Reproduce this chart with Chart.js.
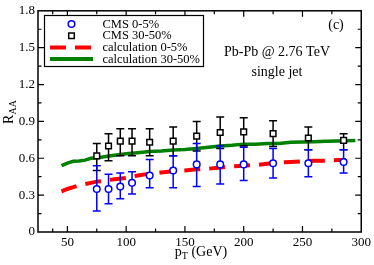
<!DOCTYPE html>
<html><head><meta charset="utf-8">
<script src="https://cdn.jsdelivr.net/npm/chart.js@4.4.1/dist/chart.umd.min.js"></script>
<style>html,body{margin:0;padding:0;background:#fff}</style>
</head><body>
<canvas id="c" width="374" height="265" style="display:block;width:374px;height:265px"></canvas>
<script>
// ---- data ----
const ptCMS = [75, 85, 95, 105, 120, 140, 160, 180, 200, 225, 255, 285];
const cms05 = [0.35, 0.35, 0.37, 0.40, 0.46, 0.50, 0.55, 0.55, 0.55, 0.56, 0.56, 0.57];
const cms05Lo = [0.17, 0.23, 0.27, 0.31, 0.36, 0.36, 0.37, 0.39, 0.42, 0.44, 0.45, 0.48];
const cms05Hi = [0.54, 0.47, 0.48, 0.49, 0.59, 0.62, 0.72, 0.70, 0.69, 0.68, 0.67, 0.67];
const cms3050 = [0.62, 0.70, 0.74, 0.74, 0.73, 0.74, 0.78, 0.81, 0.815, 0.80, 0.765, 0.745];
const cms3050Lo = [0.50, 0.58, 0.62, 0.62, 0.62, 0.62, 0.66, 0.68, 0.70, 0.695, 0.67, 0.67];
const cms3050Hi = [0.72, 0.80, 0.84, 0.84, 0.84, 0.855, 0.90, 0.935, 0.93, 0.905, 0.855, 0.80];

const ptCalc05 = [45, 50, 55, 60, 65, 70, 75, 80, 90, 100, 110, 120, 130, 140, 150, 160, 170, 180, 190, 200, 210, 220, 230, 240, 250, 260, 270, 280, 287];
const calc05 = [0.33, 0.35, 0.365, 0.38, 0.39, 0.40, 0.41, 0.415, 0.43, 0.44, 0.46, 0.475, 0.485, 0.495, 0.50, 0.51, 0.515, 0.525, 0.535, 0.54, 0.545, 0.555, 0.565, 0.57, 0.575, 0.58, 0.58, 0.585, 0.585];
const ptCalc3050 = [45, 50, 55, 60, 65, 70, 75, 80, 90, 100, 110, 120, 130, 140, 150, 160, 170, 180, 190, 200, 210, 220, 230, 240, 250, 260, 270, 280, 295];
const calc3050 = [0.54, 0.56, 0.575, 0.578, 0.585, 0.60, 0.605, 0.61, 0.625, 0.637, 0.645, 0.655, 0.66, 0.668, 0.672, 0.68, 0.69, 0.70, 0.705, 0.715, 0.715, 0.72, 0.72, 0.73, 0.732, 0.735, 0.738, 0.74, 0.745];

const xTicks = [50, 100, 150, 200, 250, 300];
const yTicks = [0, 0.3, 0.6, 0.9, 1.2, 1.5, 1.8];
const labels = ['CMS 0-5%', 'CMS 30-50%', 'calculation 0-5%', 'calculation 30-50%'];
const annotPanel = '(c)';
const annotSystem = 'Pb-Pb @ 2.76 TeV';
const annotObs = 'single jet';

// ---- chart ----
const SERIF = '"Liberation Serif", "DejaVu Serif", serif';
const zip = (xs, ys) => xs.map((x, i) => ({x: x, y: ys[i]}));

const plugin = {
  id: 'decor',
  beforeDatasetDraw(chart, args) {
    const ds = chart.data.datasets[args.index];
    if (!ds.errLo) return;
    const xs = chart.scales.x, ys = chart.scales.y, ctx = chart.ctx;
    ctx.save();
    ctx.strokeStyle = ds.borderColor; ctx.lineWidth = 1.5;
    ds.data.forEach((p, i) => {
      const x = xs.getPixelForValue(p.x);
      const y1 = ys.getPixelForValue(ds.errLo[i]);
      const y2 = ys.getPixelForValue(ds.errHi[i]);
      ctx.beginPath();
      ctx.moveTo(x, y1); ctx.lineTo(x, y2);
      ctx.moveTo(x - 4, y1); ctx.lineTo(x + 4, y1);
      ctx.moveTo(x - 4, y2); ctx.lineTo(x + 4, y2);
      ctx.stroke();
    });
    ctx.restore();
  },
  afterDraw(chart) {
    const ctx = chart.ctx, a = chart.chartArea, xs = chart.scales.x, ys = chart.scales.y;
    ctx.save();
    // frame
    ctx.strokeStyle = '#000'; ctx.lineWidth = 1.5;
    ctx.strokeRect(a.left, a.top, a.right - a.left, a.bottom - a.top);
    // inward ticks (major + minor), mirrored
    ctx.lineWidth = 1.2;
    ctx.beginPath();
    const xMaj = xTicks, xMin = [];
    for (let i = 0; i < xTicks.length; i++) {
      const prev = i === 0 ? xs.min : xTicks[i - 1];
      xMin.push((prev + xTicks[i]) / 2);
    }
    const yMin = [];
    for (let i = 1; i < yTicks.length; i++) yMin.push((yTicks[i - 1] + yTicks[i]) / 2);
    const tx = (v, L) => {
      const x = xs.getPixelForValue(v);
      if (x <= a.left + 1 || x >= a.right - 1) return;
      ctx.moveTo(x, a.bottom); ctx.lineTo(x, a.bottom - L);
      ctx.moveTo(x, a.top); ctx.lineTo(x, a.top + L);
    };
    const ty = (v, L) => {
      const y = ys.getPixelForValue(v);
      if (y <= a.top + 1 || y >= a.bottom - 1) return;
      ctx.moveTo(a.left, y); ctx.lineTo(a.left + L, y);
      ctx.moveTo(a.right, y); ctx.lineTo(a.right - L, y);
    };
    xMaj.forEach(v => tx(v, 6)); xMin.forEach(v => tx(v, 3.5));
    yTicks.forEach(v => ty(v, 6)); yMin.forEach(v => ty(v, 3.5));
    ctx.stroke();

    // legend
    const bx = 44.5, by = 15.5, bw = 159, bh = 51;
    ctx.fillStyle = '#fff'; ctx.fillRect(bx, by, bw, bh);
    ctx.strokeStyle = '#000'; ctx.lineWidth = 1.2; ctx.strokeRect(bx, by, bw, bh);
    ctx.font = '12.5px ' + SERIF; ctx.textBaseline = 'middle'; ctx.textAlign = 'left';
    chart.data.datasets.forEach((ds, i) => {
      const y = 24 + i * 11.7;
      ctx.save();
      if (ds.showLine === false) {
        ctx.strokeStyle = ds.borderColor; ctx.lineWidth = 1.5; ctx.fillStyle = '#fff';
        ctx.beginPath();
        if (ds.pointStyle === 'rect') { ctx.rect(71.5 - 2.8, y - 2.8, 5.6, 5.6); }
        else { ctx.arc(71.5, y, 3.3, 0, Math.PI * 2); }
        ctx.fill(); ctx.stroke();
      } else {
        ctx.strokeStyle = ds.borderColor; ctx.lineWidth = 4;
        ctx.setLineDash(ds.borderDash || []);
        ctx.beginPath(); ctx.moveTo(50, y); ctx.lineTo(93, y); ctx.stroke();
      }
      ctx.restore();
      ctx.fillStyle = '#000';
      ctx.fillText(ds.label, 102.5, y + 0.5);
    });

    // annotations
    ctx.font = '14px ' + SERIF; ctx.textAlign = 'center'; ctx.fillStyle = '#000';
    ctx.fillText(annotPanel, 336, 25.5);
    ctx.fillText(annotSystem, 277, 52);
    ctx.fillText(annotObs, 277, 72);

    // x title: p_T (GeV)
    ctx.textAlign = 'left'; ctx.textBaseline = 'alphabetic';
    const f1 = '14px ' + SERIF, f2 = '10px ' + SERIF;
    ctx.font = f1; const wP = ctx.measureText('p').width, wR = ctx.measureText(' (GeV)').width;
    ctx.font = f2; const wT = ctx.measureText('T').width;
    let x0 = 201 - (wP + wT + wR) / 2, yb = 256;
    ctx.font = f1; ctx.fillText('p', x0, yb);
    ctx.font = f2; ctx.fillText('T', x0 + wP, yb + 3);
    ctx.font = f1; ctx.fillText(' (GeV)', x0 + wP + wT, yb);

    // y title: R_AA
    ctx.translate(13, 112); ctx.rotate(-Math.PI / 2);
    ctx.font = f1; const wRR = ctx.measureText('R').width;
    ctx.font = f2; const wAA = ctx.measureText('AA').width;
    const s0 = -(wRR + wAA) / 2;
    ctx.font = f1; ctx.fillText('R', s0, 0);
    ctx.font = f2; ctx.fillText('AA', s0 + wRR, 3);
    ctx.restore();
  }
};

new Chart(document.getElementById('c'), {
  type: 'scatter',
  data: {
    datasets: [
      {label: labels[0], data: zip(ptCMS, cms05), errLo: cms05Lo, errHi: cms05Hi,
       showLine: false, pointStyle: 'circle', pointRadius: 3.3, pointBorderWidth: 1.5,
       borderColor: '#0000ff', backgroundColor: '#ffffff'},
      {label: labels[1], data: zip(ptCMS, cms3050), errLo: cms3050Lo, errHi: cms3050Hi,
       showLine: false, pointStyle: 'rect', pointRadius: 4, pointBorderWidth: 1.5,
       borderColor: '#000000', backgroundColor: '#ffffff'},
      {label: labels[2], data: zip(ptCalc05, calc05), showLine: true, pointRadius: 0,
       borderColor: '#ff0000', borderWidth: 4, borderDash: [16, 9], tension: 0},
      {label: labels[3], data: zip(ptCalc3050, calc3050), showLine: true, pointRadius: 0,
       borderColor: '#008000', borderWidth: 3.5, tension: 0}
    ]
  },
  options: {
    responsive: false, animation: false, devicePixelRatio: 1,
    layout: {padding: {top: 6, right: 12, left: 0, bottom: 0}},
    plugins: {legend: {display: false}, tooltip: {enabled: false}},
    scales: {
      x: {
        type: 'linear', min: 25, max: 300,
        afterFit: s => { s.height = 33; },
        afterBuildTicks: s => { s.ticks = xTicks.map(v => ({value: v})); },
        grid: {display: false, drawTicks: false},
        border: {display: false},
        ticks: {font: {family: SERIF, size: 13}, color: '#000', padding: 3, maxRotation: 0}
      },
      y: {
        type: 'linear', min: 0, max: 1.8,
        afterFit: s => { s.width = 38; },
        afterBuildTicks: s => { s.ticks = yTicks.map(v => ({value: v})); },
        grid: {display: false, drawTicks: false},
        border: {display: false},
        ticks: {font: {family: SERIF, size: 13}, color: '#000', padding: 3,
                callback: v => (v === 0 ? '0' : v.toFixed(1))}
      }
    }
  },
  plugins: [plugin]
});
</script>
</body></html>
